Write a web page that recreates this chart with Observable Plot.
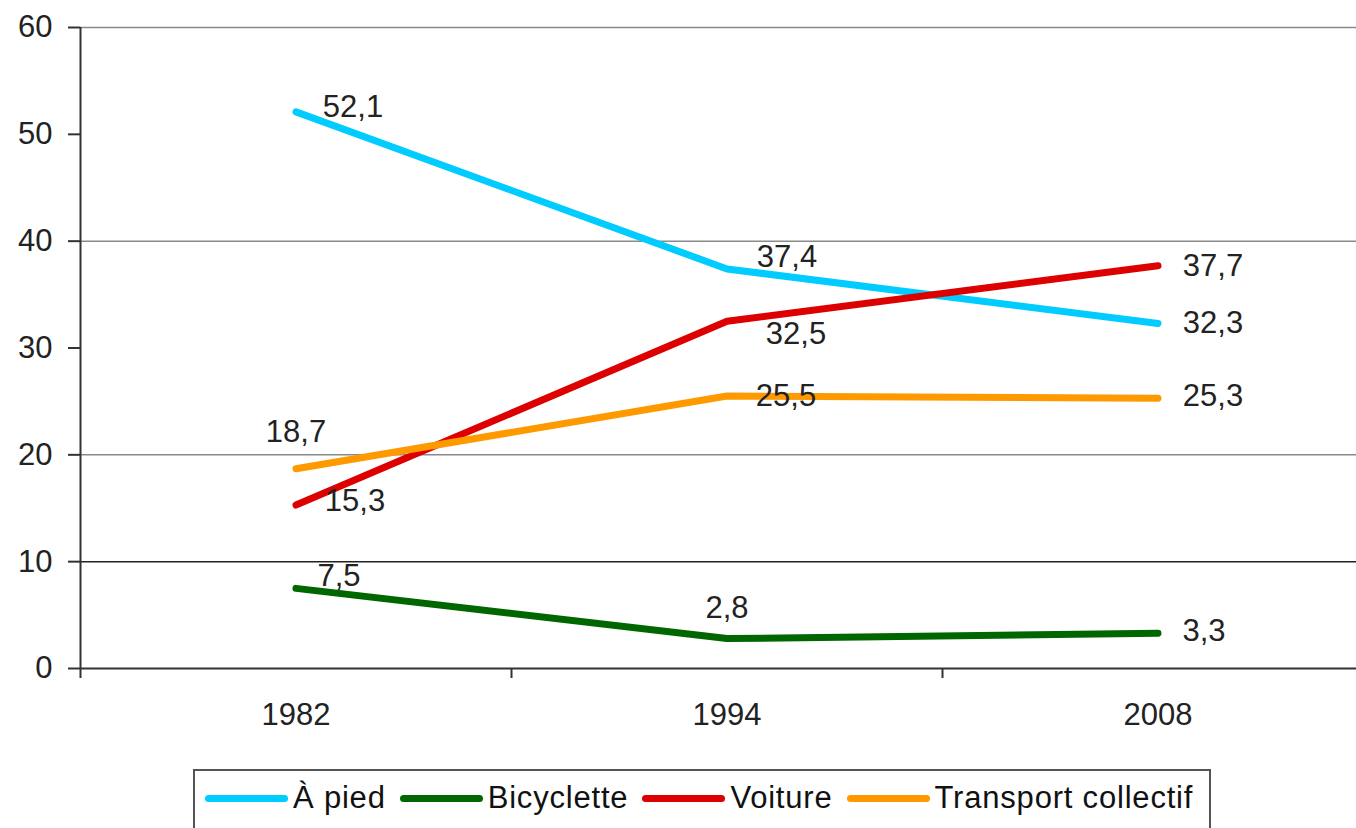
<!DOCTYPE html>
<html>
<head>
<meta charset="utf-8">
<script src="https://cdn.jsdelivr.net/npm/d3@7"></script>
<script src="https://cdn.jsdelivr.net/npm/@observablehq/plot@0.6"></script>
<style>
  html, body { margin: 0; padding: 0; background: #fff; overflow: hidden; }
  body { width: 1356px; height: 828px; font-family: "Liberation Sans", Arial, sans-serif; }
  #chart svg { display: block; }
  #legend {
    position: absolute; left: 193px; top: 769px; width: 1018px; height: 90px;
    border: 2px solid #555; box-sizing: border-box; background: #fff;
    display: flex; align-items: flex-start; padding-top: 9px; padding-left: 10px;
    font-size: 31px; letter-spacing: 0.8px; color: #111; white-space: nowrap;
  }
  .item { display: flex; align-items: center; margin-right: 14px; }
  .sw { width: 83px; height: 7px; border-radius: 4px; margin-right: 5px; }
</style>
</head>
<body>
<div id="chart"></div>
<div id="legend"></div>
<script>
// ---- data ----
const years = ["1982", "1994", "2008"];
const series = ["À pied", "Bicyclette", "Voiture", "Transport collectif"];
const colors = ["#00CCFF", "#006600", "#DD0000", "#FF9900"];
const aPied = [52.1, 37.4, 32.3];
const bicyclette = [7.5, 2.8, 3.3];
const voiture = [15.3, 32.5, 37.7];
const transport = [18.7, 25.5, 25.3];
const yTicks = [0, 10, 20, 30, 40, 50, 60];
const gridLight = [20, 40, 60];
const gridDark = [10];

// label offsets (px) per series, per year
const labelOffsets = {
  "À pied": [[57, -5], [60, -12], [55, 0]],
  "Bicyclette": [[43, -12], [0, -31], [46, -2]],
  "Voiture": [[59, -4], [69, 13], [55, 0]],
  "Transport collectif": [[0, -37], [59, 0], [55, -2]]
};

const valuesBySeries = [aPied, bicyclette, voiture, transport];
const rows = [];
series.forEach((s, si) => {
  years.forEach((yr, yi) => {
    rows.push({ series: s, idx: yi, year: yr, value: valuesBySeries[si][yi] });
  });
});

const fmt = v => String(v).replace(".", ",");
const fontSize = 31;

const labelMarks = rows.map(r => {
  const [dx, dy] = labelOffsets[r.series][r.idx];
  return Plot.text([r], {
    x: "idx", y: "value", text: d => fmt(d.value),
    dx, dy, fontSize, fill: "#222"
  });
});

const chart = Plot.plot({
  width: 1356,
  height: 760,
  marginLeft: 80,
  marginRight: -17,
  marginTop: 27,
  marginBottom: 92,
  style: { fontFamily: "Liberation Sans, Arial, sans-serif", background: "#fff", overflow: "visible" },
  x: { type: "linear", domain: [-0.5, 2.5] },
  y: { domain: [0, 60] },
  color: { domain: series, range: colors },
  marks: [
    Plot.ruleY(gridLight, { stroke: "#8a8a8a", strokeWidth: 1.5 }),
    Plot.ruleY(gridDark, { stroke: "#222", strokeWidth: 1.5 }),
    // y axis
    Plot.axisY({ ticks: yTicks, tickSize: 12, tickPadding: 16, fontSize, stroke: "#333", strokeWidth: 2, fill: "#222", label: null }),
    Plot.ruleX([-0.5], { stroke: "#333", strokeWidth: 2 }),
    // x axis: boundary ticks + centered labels
    Plot.ruleY([0], { stroke: "#333", strokeWidth: 2 }),
    Plot.axisX({ ticks: [-0.5, 0.5, 1.5], tickSize: 10, tickFormat: () => "", stroke: "#333", strokeWidth: 2, label: null }),
    Plot.axisX({ ticks: [0, 1, 2], tickSize: 0, tickPadding: 34, tickFormat: i => years[i], fontSize, fill: "#222", label: null }),
    // lines
    Plot.line(rows, { x: "idx", y: "value", z: "series", stroke: "series", strokeWidth: 7, strokeLinecap: "round", strokeLinejoin: "round" }),
    ...labelMarks
  ]
});
document.getElementById("chart").appendChild(chart);

// legend
const legend = document.getElementById("legend");
series.forEach((s, i) => {
  const it = document.createElement("div");
  it.className = "item";
  const sw = document.createElement("div");
  sw.className = "sw";
  sw.style.background = colors[i];
  const t = document.createElement("span");
  t.textContent = s;
  it.appendChild(sw); it.appendChild(t);
  legend.appendChild(it);
});
</script>
</body>
</html>
